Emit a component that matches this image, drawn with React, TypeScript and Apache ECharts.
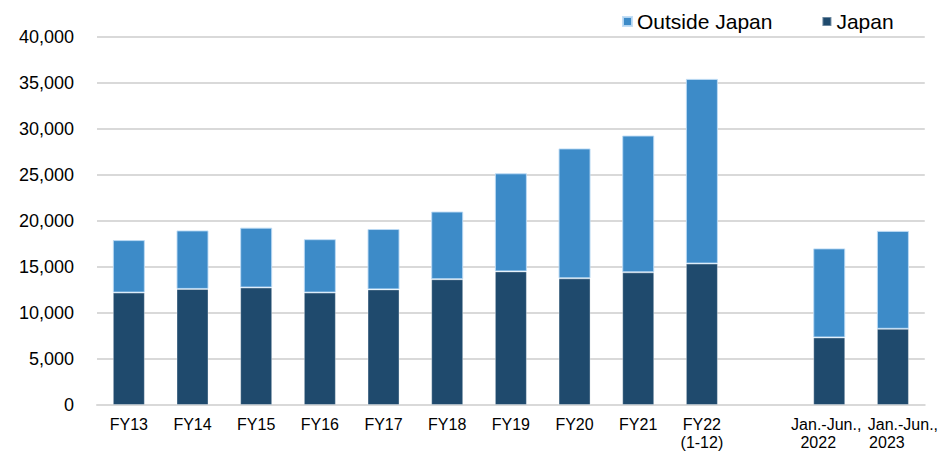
import React, { useEffect, useRef } from "react";
import * as echarts from "echarts";

const categories = [
  "FY13", "FY14", "FY15", "FY16", "FY17", "FY18", "FY19", "FY20", "FY21",
  "FY22\n(1-12)", "", "Jan.-Jun.,\n2022", "Jan.-Jun.,\n2023",
];
const japan = [12200, 12600, 12750, 12200, 12550, 13650, 14500, 13750, 14400, 15350, null, 7330, 8270];
const outsideJapan = [5700, 6350, 6500, 5800, 6550, 7350, 10650, 14100, 14850, 20050, null, 9670, 10630];
const yTicks = { min: 0, max: 40000, interval: 5000 };

const FONT = "'Liberation Sans', Arial, sans-serif";

export default function App() {
  const ref = useRef<HTMLDivElement>(null);
  useEffect(() => {
    if (!ref.current) return;
    const chart = echarts.init(ref.current, null, { renderer: "svg" });
    const base = { fontSize: 16, fontFamily: FONT, color: "#000", lineHeight: 18 };
    chart.setOption({
      animation: false,
      backgroundColor: "#ffffff",
      textStyle: { fontFamily: FONT },
      legend: {
        data: ["Outside Japan", "Japan"],
        left: 617,
        top: 6,
        itemWidth: 9,
        itemHeight: 9,
        itemGap: 49,
        icon: "rect",
        textStyle: { fontSize: 21, color: "#000", fontFamily: FONT },
      },
      grid: { left: 97, right: 15, top: 36.5, bottom: 44.4, containLabel: false },
      xAxis: {
        type: "category",
        data: categories,
        axisLine: { show: true, lineStyle: { color: "#d9d9d9", width: 2 } },
        axisTick: { show: false },
        axisLabel: {
          interval: 0,
          ...base,
          margin: 10,
          formatter: (v: string) => {
            if (v.startsWith("Jan.-Jun.,")) {
              const [a, b] = v.split("\n");
              if (b === "2022") return `{j22|${a}}\n{y22|${b}}`;
              return `{j23|${a}}\n{y23|${b}}`;
            }
            return v;
          },
          rich: {
            j22: { ...base, padding: [0, 6, 0, 0] },
            y22: { ...base, padding: [0, 22, 0, 0] },
            j23: { ...base, padding: [0, 0, 0, 20] },
            y23: { ...base, padding: [0, 12, 0, 0] },
          },
        },
      },
      yAxis: {
        type: "value",
        min: yTicks.min,
        max: yTicks.max,
        interval: yTicks.interval,
        axisLine: { show: false },
        axisTick: { show: false },
        splitLine: { lineStyle: { color: "#d9d9d9", width: 2 } },
        axisLabel: {
          fontSize: 18,
          color: "#000",
          margin: 23,
          fontFamily: FONT,
          formatter: (v: number) => v.toLocaleString("en-US"),
        },
      },
      series: [
        {
          name: "Japan",
          type: "bar",
          stack: "total",
          data: japan,
          barWidth: 32,
          itemStyle: { color: "#1f4a6d", borderColor: "rgba(255,255,255,0.35)", borderWidth: 1 },
        },
        {
          name: "Outside Japan",
          type: "bar",
          stack: "total",
          data: outsideJapan,
          barWidth: 32,
          itemStyle: { color: "#3d8bc8", borderColor: "rgba(190,220,245,0.9)", borderWidth: 1 },
        },
      ],
    });
    return () => chart.dispose();
  }, []);
  return (
    <div
      ref={ref}
      style={{ position: "fixed", left: 0, top: 0, width: 941, height: 451, background: "#fff" }}
    />
  );
}
